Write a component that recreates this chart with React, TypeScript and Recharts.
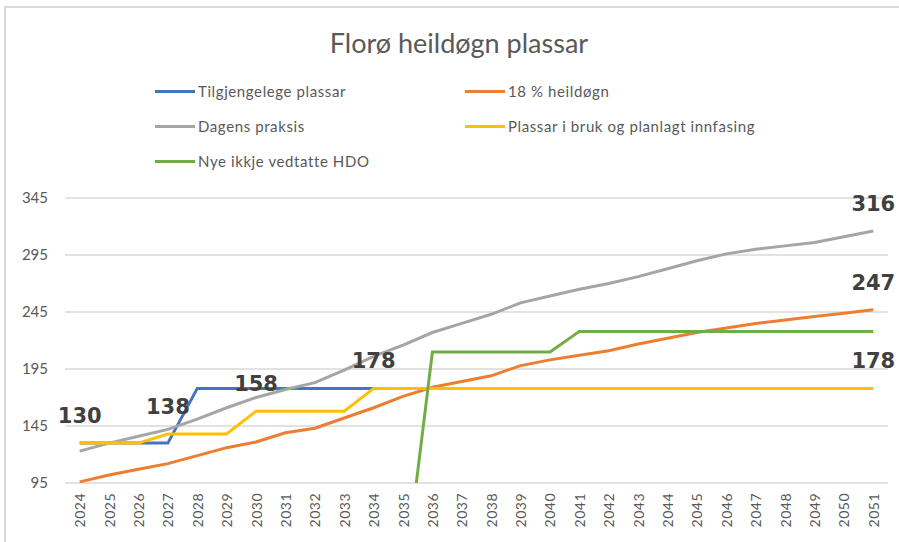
import { CartesianGrid, LabelList, Legend, Line, LineChart, XAxis, YAxis } from "recharts";

const years = [
  "2024", "2025", "2026", "2027", "2028", "2029", "2030", "2031", "2032", "2033",
  "2034", "2035", "2036", "2037", "2038", "2039", "2040", "2041", "2042", "2043",
  "2044", "2045", "2046", "2047", "2048", "2049", "2050", "2051",
];

const tilgjengelege: (number | null)[] = [
  130, 130, 130, 130, 178, 178, 178, 178, 178, 178,
  178, null, null, null, null, null, null, null, null, null,
  null, null, null, null, null, null, null, null,
];

const heildogn18 = [
  96, 102, 107, 112, 119, 126, 131, 139, 143, 152,
  161, 171, 179, 184, 189, 198, 203, 207, 211, 217,
  222, 227, 231, 235, 238, 241, 244, 247,
];

const dagensPraksis = [
  123, 130, 136, 142, 151, 161, 170, 177, 183, 194,
  206, 216, 227, 235, 243, 253, 259, 265, 270, 276,
  283, 290, 296, 300, 303, 306, 311, 316,
];

const plassarIBruk = [
  130, 130, 130, 138, 138, 138, 158, 158, 158, 158,
  178, 178, 178, 178, 178, 178, 178, 178, 178, 178,
  178, 178, 178, 178, 178, 178, 178, 178,
];

const nyeHDO = [
  0, 0, 0, 0, 0, 0, 0, 0, 0, 0,
  0, 0, 210, 210, 210, 210, 210, 228, 228, 228,
  228, 228, 228, 228, 228, 228, 228, 228,
];

const yTicks = [95, 145, 195, 245, 295, 345];

// which points get the big bold value label
const yellowLabelAt = [0, 3, 6, 10, 27];
const lastOnly = [27];

const series = [
  { key: "tilgjengelege", name: "Tilgjengelege plassar", color: "#4472C4" },
  { key: "heildogn18", name: "18 % heildøgn", color: "#ED7D31" },
  { key: "dagens", name: "Dagens praksis", color: "#A5A5A5" },
  { key: "iBruk", name: "Plassar i bruk og planlagt innfasing", color: "#FFC000" },
  { key: "nye", name: "Nye ikkje vedtatte HDO", color: "#70AD47" },
];

const data = years.map((year, i) => ({
  year,
  tilgjengelege: tilgjengelege[i],
  heildogn18: heildogn18[i],
  dagens: dagensPraksis[i],
  iBruk: plassarIBruk[i],
  nye: nyeHDO[i],
}));

const FONT = "Lato, 'Open Sans', sans-serif";

function valueLabel(indices: number[]) {
  return (props: any) => {
    const { x, y, index, value } = props;
    if (!indices.includes(index) || value == null) return null;
    return (
      <text
        x={x}
        y={y - 27}
        textAnchor="middle"
        dominantBaseline="central"
        fontFamily="'DejaVu Sans', sans-serif"
        fontWeight={700}
        fontSize={21}
        fill="#404040"
      >
        {value}
      </text>
    );
  };
}

function YearTick({ x, y, payload }: any) {
  return (
    <text
      transform={`translate(${x},${y + 4}) rotate(-90)`}
      textAnchor="end"
      dominantBaseline="central"
      fontFamily={FONT}
      fontSize={14}
      letterSpacing={0.5}
      fill="#595959"
    >
      {payload.value}
    </text>
  );
}

function LegendBox() {
  const pos = [
    { left: 155, top: 91 },
    { left: 465, top: 91 },
    { left: 155, top: 126 },
    { left: 465, top: 126 },
    { left: 155, top: 161 },
  ];
  return (
    <div style={{ position: "relative", width: 899, height: 180 }}>
      {series.map((s, i) => (
        <div
          key={s.key}
          style={{
            position: "absolute",
            left: pos[i].left,
            top: pos[i].top - 10,
            height: 20,
            display: "flex",
            alignItems: "center",
            fontFamily: FONT,
            fontSize: 15,
            letterSpacing: 0.6,
            color: "#595959",
            whiteSpace: "nowrap",
          }}
        >
          <span
            style={{
              display: "inline-block",
              width: 40,
              height: 3,
              background: s.color,
              marginRight: 3,
            }}
          />
          {s.name}
        </div>
      ))}
    </div>
  );
}

export default function App() {
  return (
    <div style={{ position: "relative", width: 899, height: 542, background: "#fff", overflow: "hidden" }}>
      <style>{`body{margin:0}`}</style>
      <div
        style={{
          position: "absolute",
          left: 4,
          top: 6,
          width: 920,
          height: 560,
          borderTop: "2px solid #d9d9d9",
          borderLeft: "2px solid #d9d9d9",
        }}
      />
      <div
        style={{
          position: "absolute",
          top: 26,
          left: 0,
          width: 918,
          textAlign: "center",
          fontFamily: FONT,
          fontSize: 27,
          color: "#595959",
        }}
      >
        Florø heildøgn plassar
      </div>
      <LineChart
        width={899}
        height={542}
        data={data}
        margin={{ top: 198, right: 11, left: 0, bottom: 0 }}
        style={{ position: "absolute", left: 0, top: 0 }}
      >
        <CartesianGrid vertical={false} stroke="#d9d9d9" strokeWidth={1.5} />
        <XAxis
          dataKey="year"
          interval={0}
          height={59}
          axisLine={false}
          tickLine={false}
          tickSize={0}
          tickMargin={6}
          padding={{ left: 14.7, right: 14.7 }}
          tick={<YearTick />}
        />
        <YAxis
          width={65}
          domain={[95, 345]}
          ticks={yTicks}
          allowDataOverflow
          axisLine={false}
          tickLine={false}
          tickSize={0}
          tickMargin={17}
          tick={{ fontFamily: FONT, fontSize: 15, fill: "#595959" }}
        />
        <Legend
          layout="horizontal"
          verticalAlign="middle"
          align="center"
          wrapperStyle={{ position: "absolute", top: 0, left: 0, width: 899, height: 180 }}
          content={() => <LegendBox />}
        />
        <Line dataKey="tilgjengelege" name="Tilgjengelege plassar" stroke="#4472C4" strokeWidth={3} dot={false} isAnimationActive={false} />
        <Line dataKey="heildogn18" name="18 % heildøgn" stroke="#ED7D31" strokeWidth={3} dot={false} isAnimationActive={false}>
          <LabelList dataKey="heildogn18" content={valueLabel(lastOnly)} />
        </Line>
        <Line dataKey="dagens" name="Dagens praksis" stroke="#A5A5A5" strokeWidth={3} dot={false} isAnimationActive={false}>
          <LabelList dataKey="dagens" content={valueLabel(lastOnly)} />
        </Line>
        <Line dataKey="iBruk" name="Plassar i bruk og planlagt innfasing" stroke="#FFC000" strokeWidth={3} dot={false} isAnimationActive={false}>
          <LabelList dataKey="iBruk" content={valueLabel(yellowLabelAt)} />
        </Line>
        <Line dataKey="nye" name="Nye ikkje vedtatte HDO" stroke="#70AD47" strokeWidth={3} dot={false} isAnimationActive={false} />
      </LineChart>
    </div>
  );
}
